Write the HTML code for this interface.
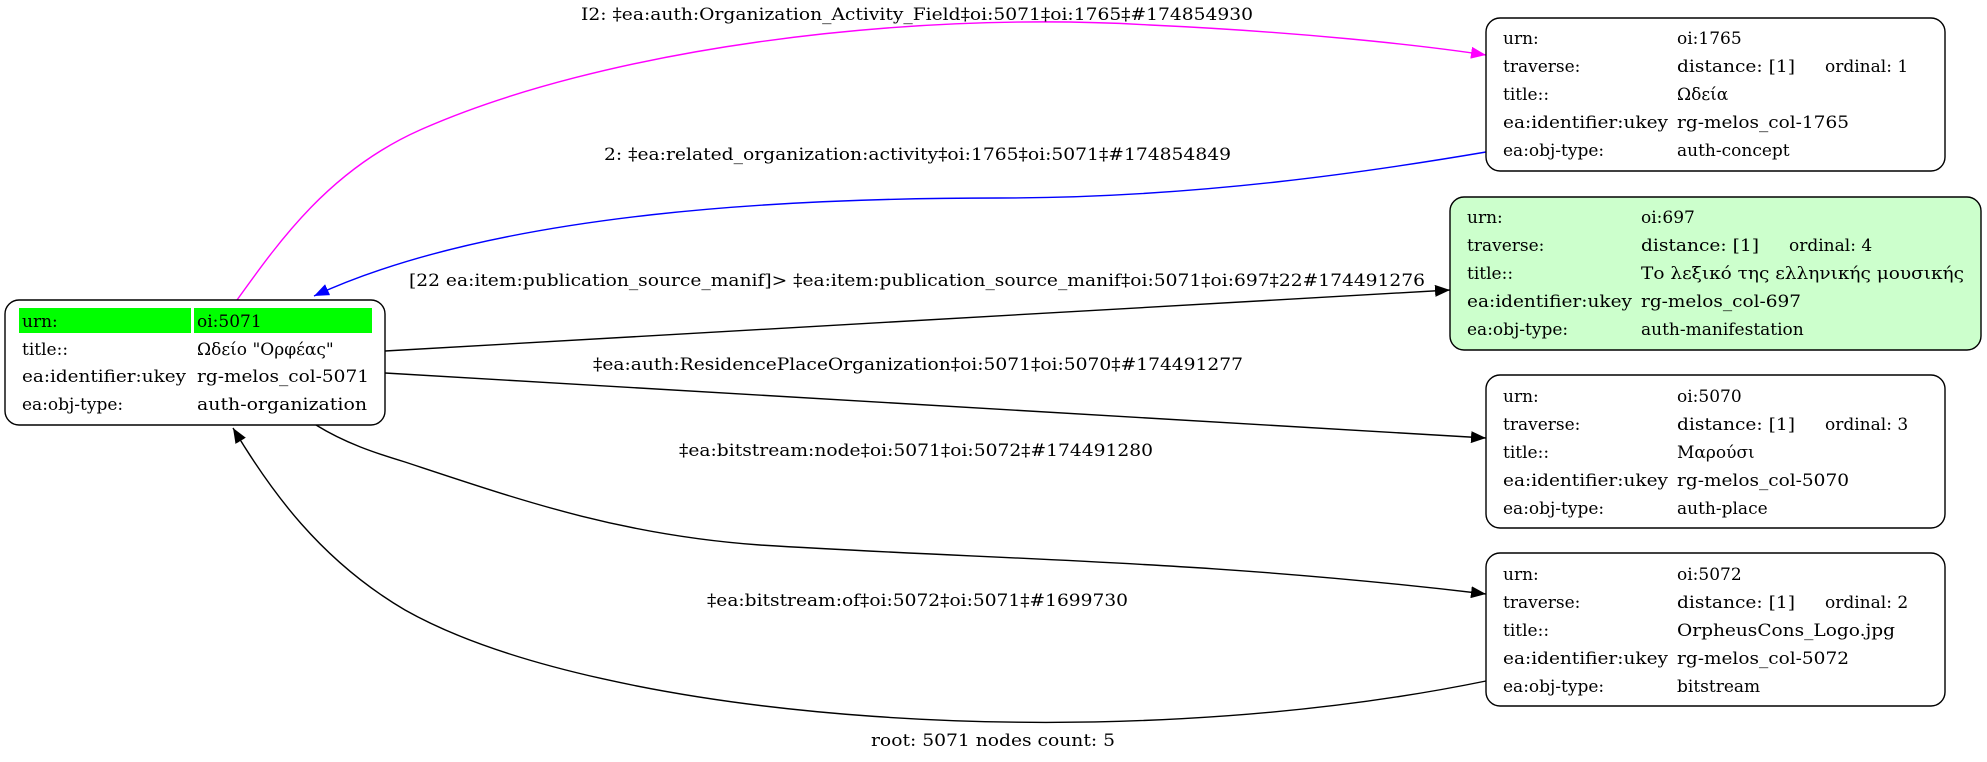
<!DOCTYPE html>
<html><head><meta charset="utf-8"><style>
html,body{margin:0;padding:0;background:#fff;}
svg{display:block;}
text{font-family:"DejaVu Serif","Liberation Serif",serif;font-size:17px;fill:#000;}
</style></head><body>
<svg width="1987" height="762" viewBox="0 0 1987 762" xmlns="http://www.w3.org/2000/svg">
<defs>
<marker id="ab" markerUnits="userSpaceOnUse" markerWidth="16" markerHeight="12" refX="15" refY="6" orient="auto"><path d="M0,0 L15,6 L0,12 z" fill="#000"/></marker>
<marker id="am" markerUnits="userSpaceOnUse" markerWidth="16" markerHeight="12" refX="15" refY="6" orient="auto"><path d="M0,0 L15,6 L0,12 z" fill="#f0f"/></marker>
<marker id="au" markerUnits="userSpaceOnUse" markerWidth="16" markerHeight="12" refX="15" refY="6" orient="auto"><path d="M0,0 L15,6 L0,12 z" fill="#00f"/></marker>
</defs>
<g fill="none" stroke-width="1.4">
<path d="M237,300 C280,240 330,170 420,130 C600,50 900,10 1150,25 C1300,32 1420,45 1486,55" stroke="#f0f" marker-end="url(#am)"/>
<path d="M1486,152 C1380,170 1200,198 1000,198 C800,198 500,210 314,296" stroke="#00f" marker-end="url(#au)"/>
<path d="M385,351 L1450,290" stroke="#000" marker-end="url(#ab)"/>
<path d="M385,373 L1486,438" stroke="#000" marker-end="url(#ab)"/>
<path d="M316,425 C345,443 375,453 405,462 C520,500 620,535 760,545 C1000,560 1200,560 1486,594" stroke="#000" marker-end="url(#ab)"/>
<path d="M1486,681 C1100,760 600,720 405,610 C320,560 270,490 233,428" stroke="#000" marker-end="url(#ab)"/>
</g>
<g stroke="#000" stroke-width="1.4">
<rect x="5" y="300" width="380" height="125" rx="14" fill="#fff"/>
<rect x="1486" y="18" width="459" height="153" rx="14" fill="#fff"/>
<rect x="1450" y="197" width="531" height="153" rx="14" fill="#ccffcc"/>
<rect x="1486" y="375" width="459" height="153" rx="14" fill="#fff"/>
<rect x="1486" y="553" width="459" height="153" rx="14" fill="#fff"/>
</g>
<rect x="19" y="308" width="172" height="25" fill="#00ff00"/>
<rect x="194" y="308" width="178" height="25" fill="#00ff00"/>
<text x="22" y="327">urn:</text><text x="197" y="327">oi:5071</text>
<text x="22" y="355">title::</text><text x="197" y="355">Ωδείο "Ορφέας"</text>
<text x="22" y="382" textLength="164" lengthAdjust="spacingAndGlyphs">ea:identifier:ukey</text><text x="197" y="382" textLength="172" lengthAdjust="spacingAndGlyphs">rg-melos_col-5071</text>
<text x="22" y="410">ea:obj-type:</text><text x="197" y="410" textLength="170" lengthAdjust="spacingAndGlyphs">auth-organization</text>
<g>
<text x="1503" y="44">urn:</text><text x="1677" y="44">oi:1765</text>
<text x="1503" y="72">traverse:</text><text x="1677" y="72" textLength="118" lengthAdjust="spacingAndGlyphs">distance: [1]</text><text x="1825" y="72">ordinal: 1</text>
<text x="1503" y="100">title::</text><text x="1677" y="100">Ωδεία</text>
<text x="1503" y="128" textLength="165" lengthAdjust="spacingAndGlyphs">ea:identifier:ukey</text><text x="1677" y="128" textLength="172" lengthAdjust="spacingAndGlyphs">rg-melos_col-1765</text>
<text x="1503" y="156">ea:obj-type:</text><text x="1677" y="156">auth-concept</text>
</g>
<g>
<text x="1467" y="223">urn:</text><text x="1641" y="223">oi:697</text>
<text x="1467" y="251">traverse:</text><text x="1641" y="251" textLength="118" lengthAdjust="spacingAndGlyphs">distance: [1]</text><text x="1789" y="251">ordinal: 4</text>
<text x="1467" y="279">title::</text><text x="1641" y="279" textLength="323" lengthAdjust="spacingAndGlyphs">Το λεξικό της ελληνικής μουσικής</text>
<text x="1467" y="307" textLength="165" lengthAdjust="spacingAndGlyphs">ea:identifier:ukey</text><text x="1641" y="307" textLength="160" lengthAdjust="spacingAndGlyphs">rg-melos_col-697</text>
<text x="1467" y="335">ea:obj-type:</text><text x="1641" y="335">auth-manifestation</text>
</g>
<g>
<text x="1503" y="402">urn:</text><text x="1677" y="402">oi:5070</text>
<text x="1503" y="430">traverse:</text><text x="1677" y="430" textLength="118" lengthAdjust="spacingAndGlyphs">distance: [1]</text><text x="1825" y="430">ordinal: 3</text>
<text x="1503" y="458">title::</text><text x="1677" y="458">Μαρούσι</text>
<text x="1503" y="486" textLength="165" lengthAdjust="spacingAndGlyphs">ea:identifier:ukey</text><text x="1677" y="486" textLength="172" lengthAdjust="spacingAndGlyphs">rg-melos_col-5070</text>
<text x="1503" y="514">ea:obj-type:</text><text x="1677" y="514">auth-place</text>
</g>
<g>
<text x="1503" y="580">urn:</text><text x="1677" y="580">oi:5072</text>
<text x="1503" y="608">traverse:</text><text x="1677" y="608" textLength="118" lengthAdjust="spacingAndGlyphs">distance: [1]</text><text x="1825" y="608">ordinal: 2</text>
<text x="1503" y="636">title::</text><text x="1677" y="636" textLength="218" lengthAdjust="spacingAndGlyphs">OrpheusCons_Logo.jpg</text>
<text x="1503" y="664" textLength="165" lengthAdjust="spacingAndGlyphs">ea:identifier:ukey</text><text x="1677" y="664" textLength="172" lengthAdjust="spacingAndGlyphs">rg-melos_col-5072</text>
<text x="1503" y="692">ea:obj-type:</text><text x="1677" y="692">bitstream</text>
</g>
<text x="581" y="20" textLength="672" lengthAdjust="spacingAndGlyphs">I2: ‡ea:auth:Organization_Activity_Field‡oi:5071‡oi:1765‡#174854930</text>
<text x="604" y="160" textLength="627" lengthAdjust="spacingAndGlyphs">2: ‡ea:related_organization:activity‡oi:1765‡oi:5071‡#174854849</text>
<text x="409" y="286" textLength="1016" lengthAdjust="spacingAndGlyphs">[22 ea:item:publication_source_manif]&gt; ‡ea:item:publication_source_manif‡oi:5071‡oi:697‡22#174491276</text>
<text x="593" y="370" textLength="650" lengthAdjust="spacingAndGlyphs">‡ea:auth:ResidencePlaceOrganization‡oi:5071‡oi:5070‡#174491277</text>
<text x="679" y="456" textLength="474" lengthAdjust="spacingAndGlyphs">‡ea:bitstream:node‡oi:5071‡oi:5072‡#174491280</text>
<text x="707" y="606" textLength="421" lengthAdjust="spacingAndGlyphs">‡ea:bitstream:of‡oi:5072‡oi:5071‡#1699730</text>
<text x="871" y="746" textLength="244" lengthAdjust="spacingAndGlyphs">root: 5071 nodes count: 5</text>
</svg>
</body></html>
